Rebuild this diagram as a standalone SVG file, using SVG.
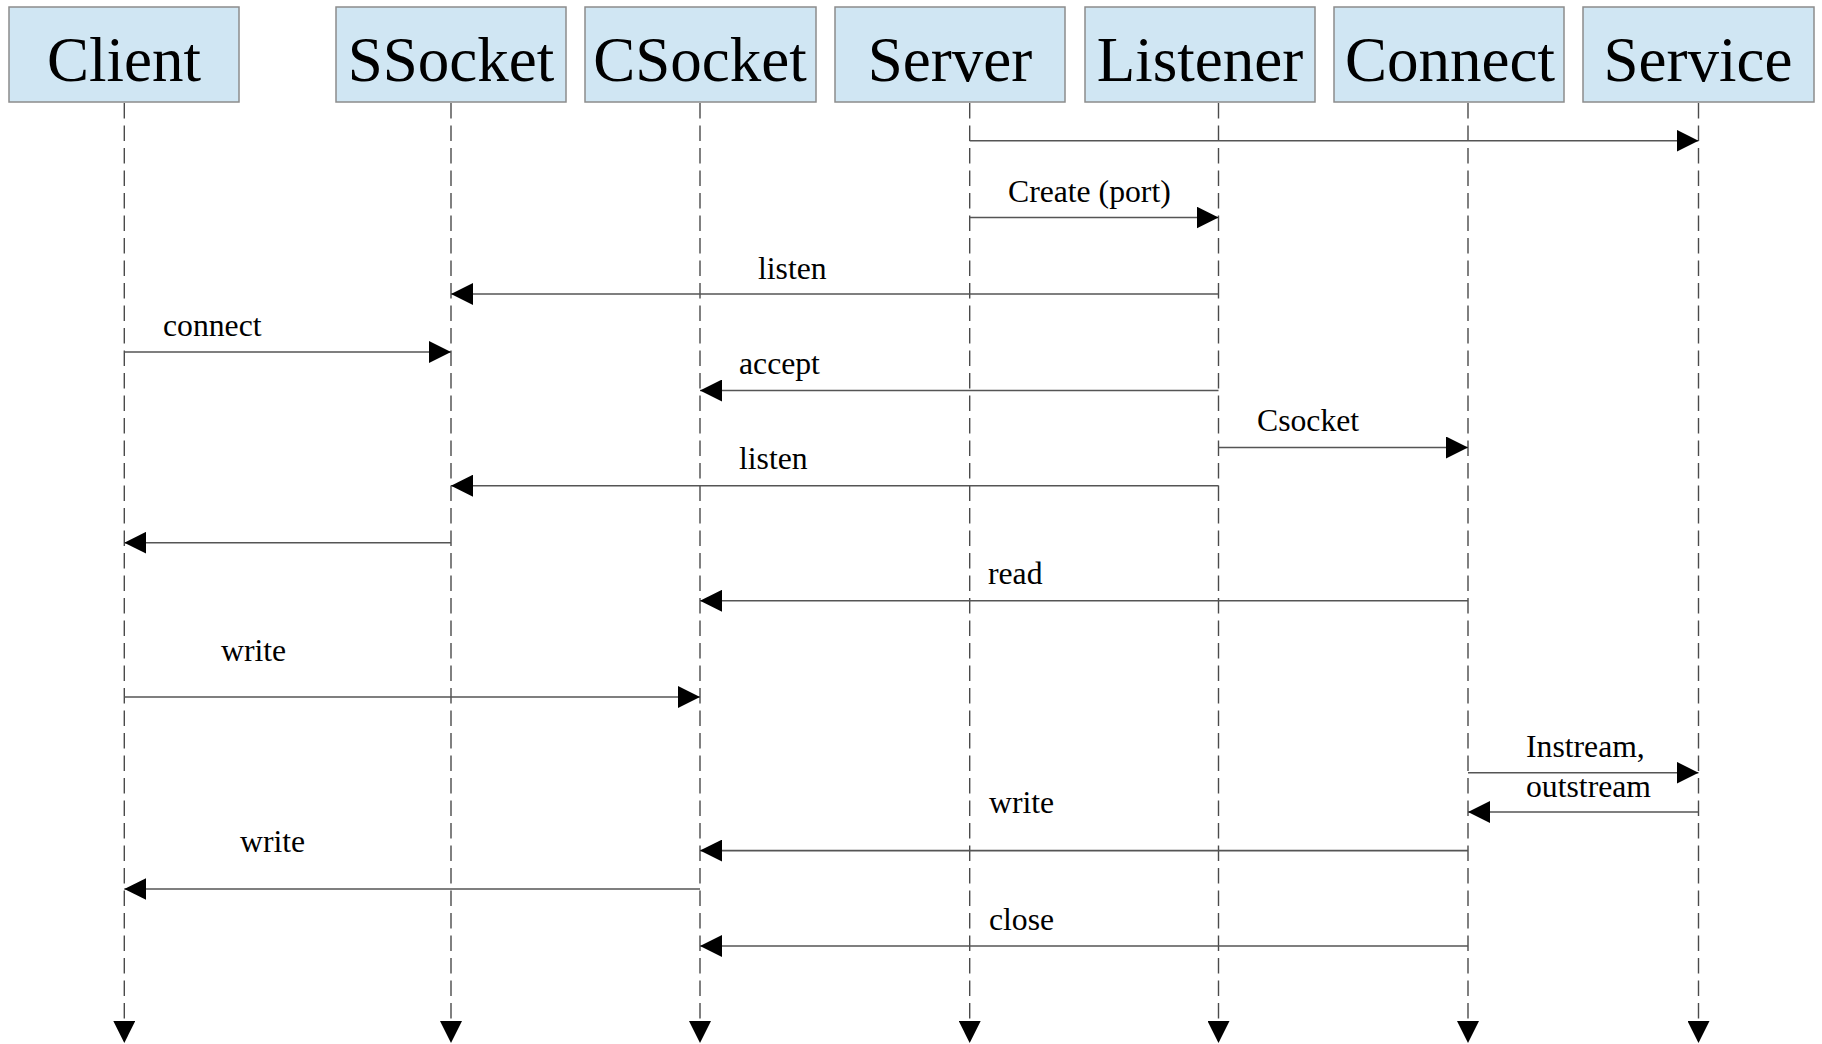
<svg xmlns="http://www.w3.org/2000/svg" width="1822" height="1044" viewBox="0 0 1822 1044">
<style>
.box{fill:#d0e6f3;stroke:#8c8c8c;stroke-width:1.5}
.hd{font-family:"Liberation Serif","Times New Roman",serif;font-size:63px;fill:#000;text-anchor:middle}
.life{stroke:#4a4a4a;stroke-width:1.4;stroke-dasharray:15.5 7;fill:none}
.msg{stroke:#555;stroke-width:1.6;fill:none}
.lb{font-family:"Liberation Serif","Times New Roman",serif;font-size:31.7px;fill:#000}
</style>
<defs>
<marker id="ah" markerUnits="userSpaceOnUse" markerWidth="22" markerHeight="22" refX="22" refY="11" orient="auto">
<path d="M0,0 L22,11 L0,22 Z" fill="#000"/>
</marker>
</defs>
<rect width="1822" height="1044" fill="#fff"/>
<g id="Client"><rect class="box" x="9" y="7" width="230" height="95"/><text class="hd" x="124" y="81">Client</text></g>
<g id="SSocket"><rect class="box" x="336" y="7" width="230" height="95"/><text class="hd" x="451" y="81">SSocket</text></g>
<g id="CSocket"><rect class="box" x="585" y="7" width="231" height="95"/><text class="hd" x="700" y="81">CSocket</text></g>
<g id="Server"><rect class="box" x="835" y="7" width="230" height="95"/><text class="hd" x="950" y="81">Server</text></g>
<g id="Listener"><rect class="box" x="1085" y="7" width="230" height="95"/><text class="hd" x="1200" y="81">Listener</text></g>
<g id="Connect"><rect class="box" x="1334" y="7" width="230" height="95"/><text class="hd" x="1450" y="81">Connect</text></g>
<g id="Service"><rect class="box" x="1583" y="7" width="231" height="95"/><text class="hd" x="1698" y="81">Service</text></g>
<g id="lifelines">
<line class="life" x1="124.3" y1="103" x2="124.3" y2="1043" marker-end="url(#ah)"/>
<line class="life" x1="451" y1="103" x2="451" y2="1043" marker-end="url(#ah)"/>
<line class="life" x1="700" y1="103" x2="700" y2="1043" marker-end="url(#ah)"/>
<line class="life" x1="969.7" y1="103" x2="969.7" y2="1043" marker-end="url(#ah)"/>
<line class="life" x1="1218.5" y1="103" x2="1218.5" y2="1043" marker-end="url(#ah)"/>
<line class="life" x1="1468" y1="103" x2="1468" y2="1043" marker-end="url(#ah)"/>
<line class="life" x1="1698.5" y1="103" x2="1698.5" y2="1043" marker-end="url(#ah)"/>
</g>
<g id="connectors">
<line class="msg" x1="969.7" y1="140.7" x2="1698.5" y2="140.7" marker-end="url(#ah)"/>
<line class="msg" x1="969.7" y1="217.5" x2="1218.5" y2="217.5" marker-end="url(#ah)"/>
<line class="msg" x1="1218.5" y1="294" x2="451" y2="294" marker-end="url(#ah)"/>
<line class="msg" x1="124.3" y1="352" x2="451" y2="352" marker-end="url(#ah)"/>
<line class="msg" x1="1218.5" y1="390.5" x2="700" y2="390.5" marker-end="url(#ah)"/>
<line class="msg" x1="1218.5" y1="447.5" x2="1468" y2="447.5" marker-end="url(#ah)"/>
<line class="msg" x1="1218.5" y1="485.7" x2="451" y2="485.7" marker-end="url(#ah)"/>
<line class="msg" x1="451" y1="542.7" x2="124.3" y2="542.7" marker-end="url(#ah)"/>
<line class="msg" x1="1468" y1="600.8" x2="700" y2="600.8" marker-end="url(#ah)"/>
<line class="msg" x1="124.3" y1="697" x2="700" y2="697" marker-end="url(#ah)"/>
<line class="msg" x1="1468" y1="772.7" x2="1698.5" y2="772.7" marker-end="url(#ah)"/>
<line class="msg" x1="1698.5" y1="812" x2="1468" y2="812" marker-end="url(#ah)"/>
<line class="msg" x1="1468" y1="850.6" x2="700" y2="850.6" marker-end="url(#ah)"/>
<line class="msg" x1="700" y1="889" x2="124.3" y2="889" marker-end="url(#ah)"/>
<line class="msg" x1="1468" y1="946" x2="700" y2="946" marker-end="url(#ah)"/>
<text class="lb" x="1008" y="202">Create (port)</text>
<text class="lb" x="758" y="279">listen</text>
<text class="lb" x="163" y="336">connect</text>
<text class="lb" x="739" y="374">accept</text>
<text class="lb" x="1257" y="431">Csocket</text>
<text class="lb" x="739" y="469">listen</text>
<text class="lb" x="988" y="584">read</text>
<text class="lb" x="221" y="661">write</text>
<text class="lb" x="1526" y="757">Instream,</text>
<text class="lb" x="1526" y="797">outstream</text>
<text class="lb" x="989" y="813">write</text>
<text class="lb" x="240" y="852">write</text>
<text class="lb" x="989" y="930">close</text>
</g>
</svg>
